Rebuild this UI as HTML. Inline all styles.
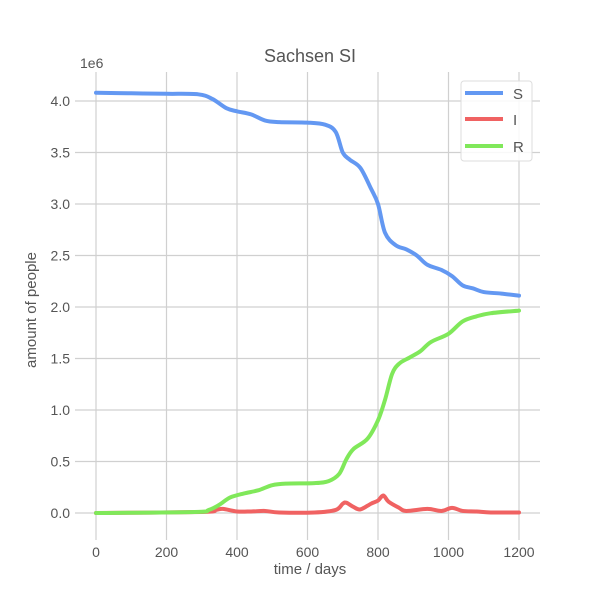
<!DOCTYPE html>
<html><head><style>body{margin:0;background:#fff}svg text{font-family:"Liberation Sans",sans-serif;fill:#555}</style></head>
<body>
<svg id="c" width="600" height="600" viewBox="0 0 600 600" xmlns="http://www.w3.org/2000/svg">
<rect width="600" height="600" fill="#fff"/>
<g id="grid" stroke="#d0d0d0" stroke-width="1.2"></g>
<g id="lbl" font-size="14"></g>
<text x="310" y="62" font-size="18" text-anchor="middle">Sachsen SI</text>
<text x="80" y="68" font-size="14">1e6</text>
<text x="310" y="574" font-size="15" text-anchor="middle">time / days</text>
<text x="36" y="310" font-size="15" text-anchor="middle" transform="rotate(-90 36 310)">amount of people</text>
<g id="lines" fill="none" stroke-width="4" stroke-linejoin="round" stroke-linecap="round"></g>
<rect x="461" y="81" width="71" height="80" rx="3" fill="#fff" fill-opacity="0.85" stroke="#ddd"/>
<line x1="465" y1="93" x2="503" y2="93" stroke="#6398f2" stroke-width="4"/>
<line x1="465" y1="119" x2="503" y2="119" stroke="#f06262" stroke-width="4"/>
<line x1="465" y1="146" x2="503" y2="146" stroke="#80e85a" stroke-width="4"/>
<text x="513" y="99" font-size="15">S</text>
<text x="513" y="125" font-size="15">I</text>
<text x="513" y="152" font-size="15">R</text>
</svg>
<script>
var X=t=>96+t*0.3525,Y=v=>513-v*103;
var g=document.getElementById('grid'),l=document.getElementById('lbl'),ns="http://www.w3.org/2000/svg";
function el(p,tag,a,txt){var e=document.createElementNS(ns,tag);for(var k in a)e.setAttribute(k,a[k]);if(txt)e.textContent=txt;p.appendChild(e);}
for(var t=0;t<=1200;t+=200){el(g,'line',{x1:X(t),x2:X(t),y1:72,y2:540});el(l,'text',{x:X(t),y:557,'text-anchor':'middle'},String(t));}
for(var v=0;v<=4;v+=0.5){el(g,'line',{x1:75,x2:540,y1:Y(v),y2:Y(v)});el(l,'text',{x:70,y:Y(v)+5,'text-anchor':'end'},v.toFixed(1));}
var S=[[0,4.08],[100,4.075],[200,4.07],[290,4.065],[330,4.02],[370,3.93],[400,3.9],[440,3.87],[480,3.81],[520,3.795],[600,3.79],[650,3.77],[680,3.7],[700,3.5],[720,3.43],[750,3.35],[780,3.15],[800,3.0],[820,2.72],[850,2.6],[880,2.56],[910,2.5],[940,2.41],[980,2.36],[1010,2.3],[1040,2.21],[1070,2.18],[1100,2.145],[1150,2.13],[1200,2.11]];
var R=[[0,0],[280,0.01],[320,0.03],[350,0.08],[380,0.15],[420,0.19],[460,0.22],[500,0.27],[540,0.285],[620,0.29],[660,0.31],[690,0.38],[710,0.52],[730,0.62],[770,0.72],[800,0.9],[820,1.1],[840,1.35],[860,1.45],[890,1.51],[920,1.57],[950,1.66],[1000,1.74],[1040,1.86],[1080,1.91],[1120,1.94],[1200,1.965]];
var I=[[0,0],[300,0.01],[340,0.03],[360,0.04],[400,0.015],[440,0.015],[480,0.02],[520,0.005],[620,0.005],[680,0.03],[700,0.09],[710,0.1],[730,0.06],[750,0.035],[780,0.09],[800,0.12],[815,0.17],[830,0.11],[860,0.05],[880,0.02],[940,0.04],[980,0.02],[1010,0.05],[1040,0.02],[1080,0.015],[1120,0.005],[1200,0.005]];
function path(d){var p=d.map(q=>[X(q[0]),Y(q[1])]);var s='M'+p[0];for(var i=0;i<p.length-1;i++){var a=p[i-1]||p[i],b=p[i],c=p[i+1],e=p[i+2]||c;s+=' C'+(b[0]+(c[0]-a[0])/6)+','+(b[1]+(c[1]-a[1])/6)+' '+(c[0]-(e[0]-b[0])/6)+','+(c[1]-(e[1]-b[1])/6)+' '+c;}return s;}
var L=document.getElementById('lines');
el(L,'path',{d:path(S),stroke:'#6398f2'});el(L,'path',{d:path(I),stroke:'#f06262'});el(L,'path',{d:path(R),stroke:'#80e85a'});
</script>
</body></html>
